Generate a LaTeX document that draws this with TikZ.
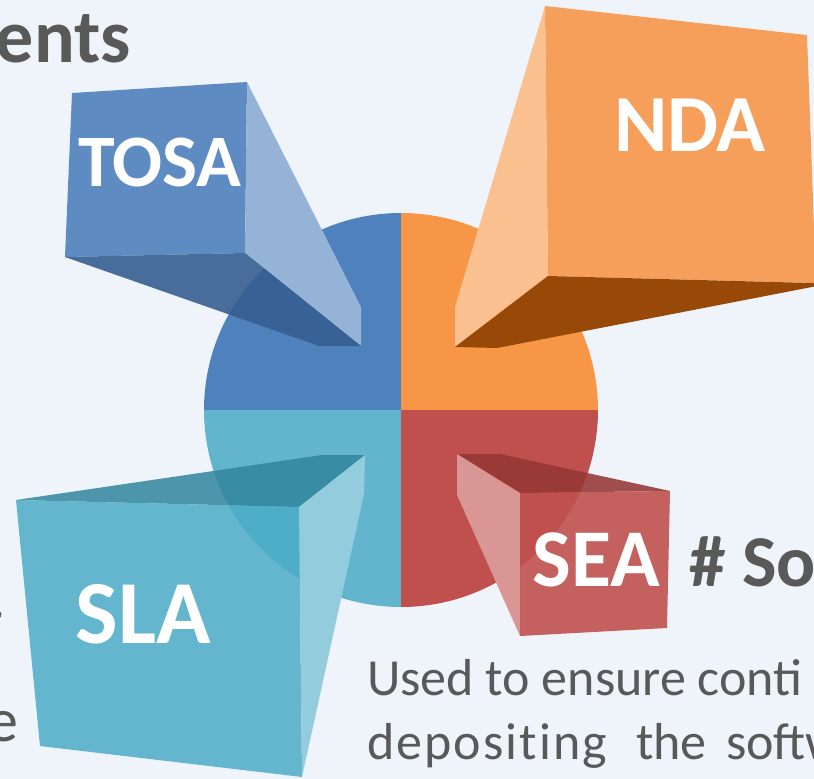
\documentclass[tikz,border=0pt]{standalone}
\usepackage{fontspec}
\setmainfont{Carlito}
\definecolor{bg}{HTML}{EFF4FB}
\definecolor{txtgray}{HTML}{595959}
\definecolor{qblue}{HTML}{4F81BD}
\definecolor{qorange}{HTML}{F79646}
\definecolor{qred}{HTML}{C0504D}
\definecolor{qteal}{HTML}{63B5CE}
\definecolor{tosafront}{HTML}{5E8CC2}
\definecolor{tosaside}{HTML}{95B3D7}
\definecolor{tosabottom}{HTML}{365F91}
\definecolor{ndafront}{HTML}{F59F5A}
\definecolor{ndaside}{HTML}{FAC090}
\definecolor{ndabottom}{HTML}{984807}
\definecolor{seafront}{HTML}{C0504D}
\definecolor{seaside}{HTML}{DA9694}
\definecolor{seatop}{HTML}{953735}
\definecolor{slafront}{HTML}{4BACC6}
\definecolor{slatop}{HTML}{31859C}
\definecolor{slaside}{HTML}{93CDDD}
\tikzset{
  boxlabel/.style={text=white, inner sep=0pt, font=\bfseries\fontsize{#1}{#1}\selectfont},
  graytext/.style={text=txtgray, inner sep=0pt, font=\fontsize{#1}{#1}\selectfont},
  spacedtext/.style={text=txtgray, inner sep=0pt, font=\fontsize{#1}{#1}\selectfont\addfontfeatures{LetterSpace=4,Ligatures=NoCommon}},
  graybold/.style={text=txtgray, inner sep=0pt, font=\bfseries\fontsize{#1}{#1}\selectfont}
}
\begin{document}
\begin{tikzpicture}[x=1pt,y=-1pt]
\useasboundingbox (0,0) rectangle (814,779);
\clip (0,0) rectangle (814,779);
\fill[bg] (0,0) rectangle (814,779);
% circle
\coordinate (c) at (401,410);
\begin{scope}
  \clip (c) circle[radius=197];
  \fill[qblue] (c) rectangle (190,200);
  \fill[qorange] (c) rectangle (610,200);
  \fill[qred] (c) rectangle (610,620);
  \fill[qteal] (c) rectangle (190,620);
\end{scope}
% TOSA box
\fill[tosafront] (72,93) -- (247,82) -- (245,253) -- (65,257) -- cycle;
\fill[tosaside] (247,82) -- (361,307) -- (361,346) -- (245,253) -- cycle;
\fill[tosabottom, opacity=0.9] (65,257) -- (245,253) -- (361,346) -- (319,346) -- cycle;
% NDA box
\fill[ndafront] (545,6) -- (807,35) -- (816,283) -- (548,276) -- cycle;
\fill[ndaside] (545,6) -- (548,276) -- (455,347) -- (455,307) -- cycle;
\fill[ndabottom] (548,276) -- (830,283.5) -- (497,348) -- (455,347) -- cycle;
% SEA box
\fill[seatop, opacity=0.88] (457,454) -- (500,454) -- (670,491) -- (520,493) -- cycle;
\fill[seaside] (457,454) -- (520,493) -- (520,636) -- (457,495) -- cycle;
\fill[seafront, opacity=0.9] (520,493) -- (670,491) -- (667,628) -- (520,636) -- cycle;
% SLA box
\fill[slatop, opacity=0.85] (16,500) -- (322,455) -- (365,455) -- (299,507) -- cycle;
\fill[slafront, opacity=0.85] (16,500) -- (299,507) -- (302,777) -- (40,746) -- cycle;
\fill[slaside] (299,507) -- (365,455) -- (364,494) -- (302,777) -- cycle;
% labels
\node[boxlabel=74, anchor=base] (tosa) at (160,186) {TOSA};
\node[boxlabel=81, anchor=base] (nda) at (690,151) {NDA};
\node[boxlabel=82, anchor=base] (sea) at (596,586) {SEA};
\node[boxlabel=90, anchor=base] (sla) at (143,643) {SLA};
% gray texts
\node[graybold=76, anchor=base east] (ents) at (131,62) {ents};
\node[graybold=73, anchor=base west] (so) at (689,586) {\# So};
\node[graytext=52, anchor=base west] (line1) at (367,695) {Used to ensure conti};
\node[spacedtext=52, anchor=base west] (w1) at (367,759) {depositing};
\node[graytext=52, anchor=base west] (w2) at (636,759) {the};
\node[graytext=52, anchor=base west] (w3) at (726,759) {softw};
\node[graytext=62, anchor=base east] (lefte) at (19,741) {e};
\node[graytext=62, anchor=base east] (leftr) at (3,642) {r};
\end{tikzpicture}
\end{document}
